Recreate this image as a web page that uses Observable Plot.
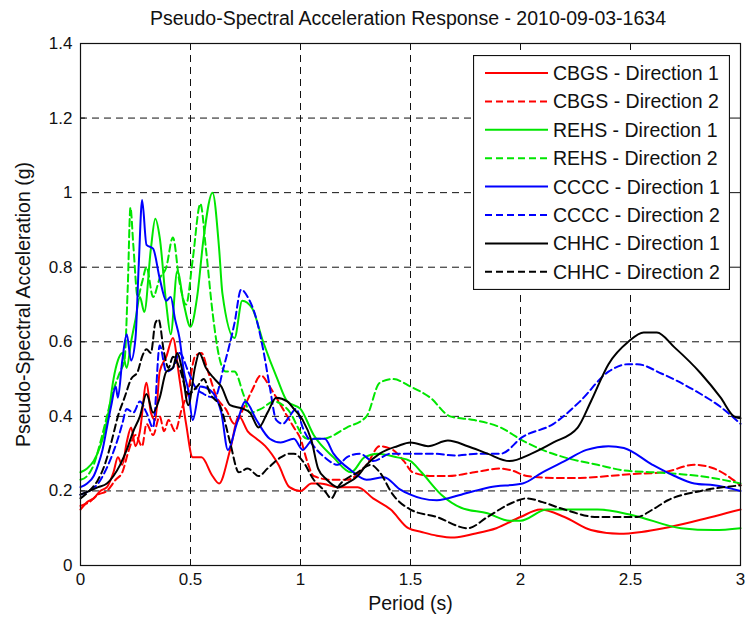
<!DOCTYPE html>
<html>
<head>
<meta charset="utf-8">
<script src="https://cdn.jsdelivr.net/npm/d3@7"></script>
<script src="https://cdn.jsdelivr.net/npm/@observablehq/plot@0.6"></script>
<style>
  body { margin: 0; background: #fff; }
  #wrap { position: relative; width: 751px; height: 620px; font-family: "Liberation Sans", Arial, sans-serif; color: #111; }
  #title { height: 34px; box-sizing: border-box; padding-top: 8px; padding-left: 76px; width: 740px; text-align: center; font-size: 19.5px; line-height: 20px; }
  #legend { position: absolute; left: 473px; top: 55px; }
</style>
</head>
<body>
<div id="wrap">
  <div id="title">Pseudo-Spectral Acceleration Response - 2010-09-03-1634</div>
  <div id="chart"></div>
  <div id="legend"></div>
</div>
<script>
// ---- data: [period (s), pseudo-spectral acceleration (g)] ----
const cbgs1 = [[0,0.15],[0.03,0.17],[0.06,0.18],[0.09,0.20],[0.12,0.21],[0.15,0.25],[0.17,0.29],[0.19,0.27],[0.21,0.33],[0.23,0.37],[0.25,0.32],[0.27,0.36],[0.30,0.49],[0.32,0.41],[0.34,0.39],[0.36,0.52],[0.39,0.56],[0.42,0.61],[0.45,0.50],[0.48,0.38],[0.51,0.29],[0.55,0.29],[0.60,0.24],[0.63,0.22],[0.68,0.31],[0.72,0.40],[0.76,0.36],[0.80,0.34],[0.84,0.32],[0.90,0.27],[0.95,0.21],[1.00,0.20],[1.05,0.22],[1.09,0.22],[1.17,0.21],[1.26,0.21],[1.33,0.18],[1.41,0.15],[1.49,0.10],[1.55,0.09],[1.62,0.08],[1.70,0.075],[1.79,0.085],[1.89,0.10],[2.00,0.13],[2.09,0.15],[2.20,0.13],[2.32,0.095],[2.45,0.085],[2.55,0.09],[2.65,0.10],[2.80,0.12],[3.00,0.15]];
const cbgs2 = [[0,0.16],[0.04,0.17],[0.08,0.19],[0.12,0.20],[0.16,0.23],[0.19,0.25],[0.22,0.31],[0.25,0.35],[0.28,0.32],[0.30,0.38],[0.33,0.35],[0.36,0.40],[0.38,0.36],[0.40,0.39],[0.43,0.36],[0.46,0.42],[0.49,0.47],[0.52,0.56],[0.55,0.57],[0.58,0.52],[0.62,0.45],[0.66,0.42],[0.70,0.38],[0.74,0.42],[0.78,0.47],[0.82,0.51],[0.86,0.48],[0.90,0.44],[0.94,0.40],[0.97,0.37],[1.00,0.34],[1.03,0.28],[1.06,0.24],[1.14,0.23],[1.21,0.23],[1.30,0.27],[1.36,0.32],[1.42,0.31],[1.47,0.28],[1.51,0.25],[1.60,0.24],[1.67,0.24],[1.79,0.25],[1.91,0.26],[1.96,0.255],[2.03,0.24],[2.15,0.235],[2.27,0.235],[2.40,0.24],[2.50,0.245],[2.65,0.25],[2.79,0.27],[2.88,0.26],[3.00,0.215]];
const rehs1 = [[0,0.25],[0.03,0.26],[0.06,0.28],[0.09,0.32],[0.11,0.36],[0.13,0.42],[0.15,0.50],[0.17,0.55],[0.19,0.57],[0.21,0.53],[0.23,0.60],[0.25,0.66],[0.27,0.72],[0.29,0.68],[0.32,0.85],[0.34,0.93],[0.36,0.88],[0.39,0.70],[0.41,0.62],[0.44,0.79],[0.47,0.70],[0.50,0.64],[0.53,0.72],[0.56,0.88],[0.60,1.00],[0.63,0.85],[0.645,0.73],[0.70,0.61],[0.735,0.71],[0.78,0.69],[0.83,0.60],[0.895,0.50],[0.94,0.44],[1.00,0.42],[1.06,0.35],[1.15,0.29],[1.23,0.25],[1.29,0.29],[1.35,0.30],[1.44,0.29],[1.50,0.28],[1.55,0.25],[1.64,0.19],[1.73,0.155],[1.85,0.14],[1.95,0.12],[2.00,0.12],[2.12,0.15],[2.35,0.15],[2.51,0.135],[2.73,0.10],[2.88,0.095],[3.00,0.10]];
const rehs2 = [[0,0.23],[0.03,0.24],[0.06,0.27],[0.09,0.33],[0.12,0.40],[0.15,0.47],[0.18,0.52],[0.20,0.55],[0.215,0.75],[0.227,0.96],[0.24,0.86],[0.26,0.72],[0.28,0.76],[0.30,0.80],[0.33,0.72],[0.36,0.77],[0.39,0.80],[0.42,0.88],[0.45,0.76],[0.48,0.70],[0.51,0.82],[0.545,0.97],[0.57,0.85],[0.60,0.68],[0.63,0.56],[0.66,0.52],[0.70,0.52],[0.74,0.46],[0.77,0.41],[0.82,0.42],[0.88,0.44],[0.94,0.42],[1.03,0.34],[1.10,0.34],[1.21,0.37],[1.30,0.40],[1.36,0.49],[1.42,0.50],[1.50,0.48],[1.59,0.45],[1.68,0.40],[1.79,0.39],[1.91,0.37],[2.01,0.335],[2.10,0.31],[2.20,0.29],[2.35,0.27],[2.47,0.255],[2.60,0.25],[2.73,0.245],[2.87,0.235],[3.00,0.22]];
const cccc1 = [[0,0.21],[0.03,0.22],[0.06,0.24],[0.08,0.27],[0.10,0.31],[0.12,0.37],[0.14,0.43],[0.16,0.48],[0.17,0.45],[0.19,0.55],[0.21,0.62],[0.23,0.55],[0.25,0.61],[0.265,0.81],[0.28,0.98],[0.30,0.86],[0.33,0.85],[0.36,0.77],[0.39,0.71],[0.41,0.72],[0.43,0.66],[0.45,0.61],[0.47,0.52],[0.49,0.47],[0.51,0.39],[0.545,0.48],[0.59,0.47],[0.64,0.41],[0.67,0.31],[0.71,0.38],[0.75,0.44],[0.80,0.39],[0.86,0.34],[0.91,0.33],[0.97,0.34],[1.01,0.31],[1.06,0.34],[1.11,0.34],[1.15,0.30],[1.23,0.255],[1.30,0.23],[1.38,0.237],[1.45,0.205],[1.50,0.19],[1.55,0.18],[1.62,0.175],[1.73,0.19],[1.86,0.21],[2.01,0.22],[2.10,0.25],[2.20,0.28],[2.30,0.31],[2.40,0.32],[2.47,0.315],[2.60,0.27],[2.70,0.24],[2.79,0.22],[2.88,0.215],[3.00,0.20]];
const cccc2 = [[0,0.19],[0.04,0.20],[0.08,0.22],[0.11,0.25],[0.14,0.29],[0.17,0.34],[0.19,0.38],[0.21,0.42],[0.24,0.41],[0.27,0.44],[0.30,0.41],[0.33,0.37],[0.36,0.59],[0.39,0.52],[0.42,0.53],[0.45,0.57],[0.49,0.52],[0.52,0.48],[0.56,0.46],[0.61,0.45],[0.65,0.53],[0.70,0.65],[0.73,0.74],[0.76,0.72],[0.80,0.66],[0.83,0.58],[0.86,0.48],[0.89,0.39],[0.92,0.38],[0.95,0.40],[0.98,0.42],[1.01,0.37],[1.06,0.32],[1.11,0.29],[1.17,0.27],[1.21,0.29],[1.27,0.30],[1.33,0.28],[1.41,0.30],[1.50,0.30],[1.60,0.30],[1.70,0.295],[1.82,0.30],[1.91,0.30],[2.01,0.345],[2.15,0.38],[2.27,0.44],[2.40,0.52],[2.49,0.54],[2.53,0.54],[2.64,0.515],[2.79,0.47],[2.91,0.425],[3.00,0.38]];
const chhc1 = [[0,0.19],[0.04,0.20],[0.08,0.21],[0.12,0.22],[0.15,0.24],[0.18,0.27],[0.21,0.31],[0.24,0.36],[0.27,0.40],[0.30,0.46],[0.33,0.41],[0.36,0.45],[0.39,0.52],[0.42,0.53],[0.44,0.57],[0.46,0.53],[0.49,0.43],[0.52,0.53],[0.54,0.57],[0.57,0.53],[0.61,0.50],[0.64,0.48],[0.68,0.43],[0.74,0.42],[0.77,0.41],[0.81,0.37],[0.85,0.41],[0.89,0.45],[0.94,0.44],[0.97,0.42],[1.01,0.39],[1.05,0.335],[1.08,0.26],[1.12,0.23],[1.17,0.21],[1.21,0.22],[1.26,0.24],[1.30,0.27],[1.36,0.30],[1.44,0.32],[1.50,0.33],[1.58,0.32],[1.67,0.335],[1.76,0.32],[1.85,0.30],[1.95,0.28],[2.05,0.30],[2.15,0.33],[2.26,0.37],[2.32,0.44],[2.40,0.54],[2.49,0.60],[2.56,0.625],[2.62,0.625],[2.70,0.585],[2.82,0.515],[2.91,0.45],[2.97,0.40],[3.00,0.395]];
const chhc2 = [[0,0.18],[0.04,0.20],[0.08,0.23],[0.11,0.27],[0.14,0.33],[0.17,0.40],[0.20,0.45],[0.23,0.50],[0.26,0.52],[0.28,0.56],[0.30,0.58],[0.32,0.57],[0.34,0.65],[0.355,0.66],[0.38,0.57],[0.40,0.53],[0.42,0.56],[0.45,0.53],[0.49,0.46],[0.53,0.48],[0.56,0.50],[0.59,0.46],[0.64,0.42],[0.68,0.33],[0.72,0.25],[0.76,0.26],[0.81,0.24],[0.85,0.26],[0.91,0.29],[0.95,0.30],[0.97,0.30],[1.01,0.28],[1.06,0.23],[1.11,0.20],[1.14,0.18],[1.17,0.21],[1.26,0.25],[1.32,0.27],[1.36,0.25],[1.42,0.19],[1.50,0.15],[1.62,0.13],[1.76,0.10],[1.85,0.13],[1.95,0.165],[2.03,0.18],[2.10,0.17],[2.20,0.15],[2.35,0.13],[2.53,0.13],[2.60,0.15],[2.67,0.175],[2.82,0.20],[3.00,0.215]];

const seriesNames = ["CBGS - Direction 1","CBGS - Direction 2","REHS - Direction 1","REHS - Direction 2","CCCC - Direction 1","CCCC - Direction 2","CHHC - Direction 1","CHHC - Direction 2"];
const seriesData = [cbgs1, cbgs2, rehs1, rehs2, cccc1, cccc2, chhc1, chhc2];
const seriesColors = ["#ff0000","#ff0000","#00e600","#00e600","#0000ff","#0000ff","#000000","#000000"];
const seriesDashed = [false,true,false,true,false,true,false,true];

const xTicks = [0, 0.5, 1, 1.5, 2, 2.5, 3];
const yTicks = [0, 0.2, 0.4, 0.6, 0.8, 1, 1.2, 1.4];

const DASH = "7,4";
const GRID_DASH = "7,5";
const fmt = d => String(d);

const rows = seriesNames.flatMap((name, i) => seriesData[i].map(([p, v]) => ({series: name, period: p, psa: v})));

const W = 751, H = 586, mt = 9, mb = 55, ml = 80, mr = 11;
const frameH = H - mt - mb, frameW = W - ml - mr;

const lineMarks = seriesNames.map((name, i) =>
  Plot.line(rows.filter(d => d.series === name), {
    x: "period", y: "psa",
    stroke: seriesColors[i], strokeWidth: 2,
    strokeDasharray: seriesDashed[i] ? DASH : null,
    curve: "monotone-x"
  })
);

const chart = Plot.plot({
  width: W, height: H,
  marginTop: mt, marginBottom: mb, marginLeft: ml, marginRight: mr,
  style: {fontFamily: '"Liberation Sans", Arial, sans-serif', fontSize: "17px", color: "#111", background: "white"},
  x: {domain: [0, 3]},
  y: {domain: [0, 1.4]},
  marks: [
    Plot.gridX(xTicks.slice(1, -1), {stroke: "#111", strokeOpacity: 1, strokeWidth: 1, strokeDasharray: GRID_DASH}),
    Plot.gridY(yTicks.slice(1, -1), {stroke: "#111", strokeOpacity: 1, strokeWidth: 1, strokeDasharray: GRID_DASH}),
    // inward ticks (MATLAB style)
    Plot.tickX(xTicks, {x: d => d, stroke: "#111", insetTop: frameH - 5}),
    Plot.tickX(xTicks, {x: d => d, stroke: "#111", insetBottom: frameH - 5}),
    Plot.tickY(yTicks, {y: d => d, stroke: "#111", insetRight: frameW - 5}),
    Plot.tickY(yTicks, {y: d => d, stroke: "#111", insetLeft: frameW - 5}),
    Plot.axisX(xTicks, {tickSize: 0, tickPadding: 7, label: null, fontSize: 17, tickFormat: fmt}),
    Plot.axisY(yTicks, {tickSize: 0, tickPadding: 8, label: null, fontSize: 17, tickFormat: fmt}),
    ...lineMarks,
    Plot.frame({stroke: "#111", strokeWidth: 1.2}),
    Plot.text(["Period (s)"], {frameAnchor: "bottom", dy: 44, fontSize: 19.5, fill: "#111"}),
    Plot.text(["Pseudo-Spectral Acceleration (g)"], {frameAnchor: "left", textAnchor: "middle", dx: -57, rotate: -90, fontSize: 19.5, fill: "#111"})
  ]
});
document.getElementById("chart").appendChild(chart);

// legend
const LW = 257, LH = 235;
const ls = d3.create("svg").attr("width", LW).attr("height", LH)
  .style("font-family", '"Liberation Sans", Arial, sans-serif');
ls.append("rect").attr("x", 0.5).attr("y", 0.5).attr("width", LW - 1).attr("height", LH - 1)
  .attr("fill", "white").attr("stroke", "#111").attr("stroke-width", 1.2);
seriesNames.forEach((name, i) => {
  const y = 18 + i * 28.4;
  ls.append("line").attr("x1", 12).attr("x2", 75).attr("y1", y).attr("y2", y)
    .attr("stroke", seriesColors[i]).attr("stroke-width", 2)
    .attr("stroke-dasharray", seriesDashed[i] ? DASH : null);
  ls.append("text").attr("x", 80).attr("y", y).attr("dy", "0.36em")
    .attr("font-size", 19.5).attr("fill", "#111").text(name);
});
document.getElementById("legend").appendChild(ls.node());
</script>
</body>
</html>
